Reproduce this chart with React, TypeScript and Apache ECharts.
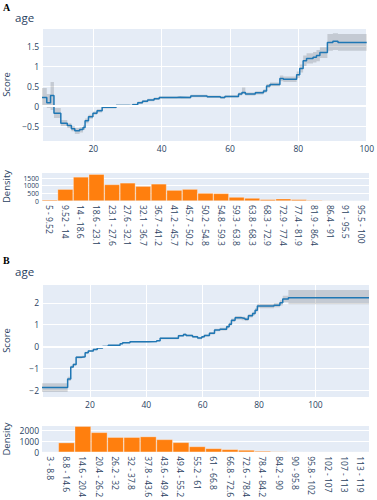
import React, { useEffect, useRef } from 'react';
import * as echarts from 'echarts';

// ---------- Panel A: age shape function ----------
const ageA_x = [5, 6.4, 7.5, 8.5, 10.5, 12.4, 13.6, 14.6, 16, 17, 17.6, 18.6, 19.9, 21.1, 22.6, 26.7, 30.6, 31.5, 33, 34.4, 35.9, 37.8, 39.3, 44.6, 45.6, 48.5, 53.3, 57.2, 58.5, 62.5, 63.5, 64.5, 67.4, 69.8, 70.7, 71.7, 74.6, 75.6, 79.5, 80.4, 81.4, 82.4, 84.3, 85.3, 86.3, 88.5, 90.1, 91.6, 100];
const ageA_score = [0.21, 0.08, 0.26, -0.18, -0.43, -0.49, -0.57, -0.62, -0.59, -0.54, -0.37, -0.27, -0.18, -0.12, -0.03, 0.01, 0.0, 0.03, 0.08, 0.12, 0.15, 0.18, 0.21, 0.22, 0.21, 0.25, 0.23, 0.21, 0.24, 0.3, 0.34, 0.3, 0.33, 0.375, 0.5, 0.54, 0.69, 0.67, 0.78, 0.94, 1.13, 1.19, 1.22, 1.26, 1.34, 1.59, 1.62, 1.59, 1.59];
const ageA_lower = [0.0, -0.05, -0.1, -0.3, -0.5, -0.55, -0.63, -0.7, -0.66, -0.6, -0.43, -0.32, -0.22, -0.16, -0.06, -0.02, -0.03, 0.0, 0.05, 0.09, 0.12, 0.15, 0.18, 0.19, 0.18, 0.22, 0.2, 0.18, 0.21, 0.26, 0.3, 0.26, 0.29, 0.33, 0.45, 0.49, 0.62, 0.6, 0.7, 0.84, 1.0, 1.06, 1.09, 1.12, 1.2, 1.38, 1.4, 1.38, 1.38];
const ageA_upper = [0.45, 0.3, 0.6, -0.05, -0.35, -0.43, -0.5, -0.55, -0.53, -0.48, -0.31, -0.22, -0.14, -0.08, 0.0, 0.04, 0.03, 0.06, 0.11, 0.15, 0.18, 0.21, 0.24, 0.25, 0.24, 0.28, 0.26, 0.24, 0.27, 0.34, 0.46, 0.34, 0.37, 0.42, 0.55, 0.59, 0.76, 0.74, 0.86, 1.04, 1.26, 1.32, 1.35, 1.4, 1.47, 1.8, 1.82, 1.8, 1.8];

const histA_bins = ['5 - 9.52', '9.52 - 14', '14 - 18.6', '18.6 - 23.1', '23.1 - 27.6', '27.6 - 32.1', '32.1 - 36.7', '36.7 - 41.2', '41.2 - 45.7', '45.7 - 50.2', '50.2 - 54.8', '54.8 - 59.3', '59.3 - 63.8', '63.8 - 68.3', '68.3 - 72.9', '72.9 - 77.4', '77.4 - 81.9', '81.9 - 86.4', '86.4 - 91', '91 - 95.5', '95.5 - 100'];
const histA_counts = [85, 780, 1580, 1755, 1085, 1190, 975, 1125, 715, 780, 520, 500, 260, 195, 110, 150, 110, 65, 45, 8, 3];

// ---------- Panel B: age shape function ----------
const ageB_x = [3, 12.1, 13.2, 14.1, 15.1, 17.1, 18.3, 19.4, 21.2, 22.6, 24.5, 26.5, 30.7, 31.6, 34.2, 41, 43.7, 44.9, 51.4, 53.2, 54.1, 56.4, 58.2, 59.7, 60.6, 62.4, 64.2, 66.1, 68.5, 69.4, 70.2, 71.5, 73.8, 75, 76.2, 77.7, 78.6, 79.4, 85.3, 87.4, 88.4, 90.4, 119];
const ageB_score = [-1.89, -1.49, -0.94, -0.83, -0.5, -0.48, -0.29, -0.21, -0.14, -0.07, 0.0, 0.05, 0.12, 0.17, 0.21, 0.22, 0.26, 0.37, 0.49, 0.55, 0.5, 0.44, 0.38, 0.44, 0.5, 0.6, 0.75, 0.79, 0.9, 1.02, 1.2, 1.31, 1.28, 1.24, 1.4, 1.51, 1.66, 1.85, 1.89, 2.0, 2.17, 2.23, 2.23];
const ageB_errLow = [0.2, 0.1, 0.06, 0.06, 0.06, 0.05, 0.04, 0.04, 0.04, 0.04, 0.03, 0.03, 0.03, 0.03, 0.03, 0.03, 0.03, 0.04, 0.04, 0.05, 0.05, 0.05, 0.05, 0.05, 0.05, 0.06, 0.06, 0.06, 0.07, 0.07, 0.08, 0.08, 0.08, 0.08, 0.08, 0.08, 0.1, 0.1, 0.1, 0.12, 0.15, 0.3, 0.3];
const ageB_errHigh = [0.2, 0.1, 0.06, 0.06, 0.06, 0.05, 0.04, 0.04, 0.04, 0.04, 0.03, 0.03, 0.03, 0.03, 0.03, 0.03, 0.03, 0.04, 0.04, 0.05, 0.05, 0.05, 0.05, 0.05, 0.05, 0.06, 0.06, 0.06, 0.07, 0.07, 0.08, 0.08, 0.08, 0.08, 0.08, 0.08, 0.1, 0.1, 0.1, 0.12, 0.15, 0.35, 0.35];

const histB_bins = ['3 - 8.8', '8.8 - 14.6', '14.6 - 20.4', '20.4 - 26.2', '26.2 - 32', '32 - 37.8', '37.8 - 43.6', '43.6 - 49.4', '49.4 - 55.2', '55.2 - 61', '61 - 66.8', '66.8 - 72.6', '72.6 - 78.4', '78.4 - 84.2', '84.2 - 90', '90 - 95.8', '95.8 - 102', '102 - 107', '107 - 113', '113 - 119'];
const histB_counts = [5, 885, 2390, 1825, 1380, 1380, 1440, 1180, 910, 530, 350, 265, 205, 115, 70, 10, 2, 1, 0, 0];

const FONT = '"Open Sans", "Noto Sans", sans-serif';
const TXT = '#2a3f5f';
const BG = '#e5ecf6';
const LINE = '#1f77b4';
const BAR = '#ff7f0e';
const BAND = 'rgba(0,0,0,0.14)';

const minusFmt = (v: number) => String(v).replace('-', '\u2212');

function bandSeries(xs: number[], lo: number[], hi: number[], xIdx: number, yIdx: number) {
  const rows = xs.slice(0, -1).map((x, i) => [x, xs[i + 1], lo[i], hi[i]]);
  return {
    type: 'custom',
    xAxisIndex: xIdx,
    yAxisIndex: yIdx,
    z: 1,
    silent: true,
    data: rows,
    encode: { x: [0, 1], y: [2, 3] },
    renderItem: (params: any, api: any) => {
      if (params.dataIndex !== 0) return null;
      const pts: number[][] = [];
      for (let i = 0; i < rows.length; i++) {
        pts.push(api.coord([rows[i][0], rows[i][3]]));
        pts.push(api.coord([rows[i][1], rows[i][3]]));
      }
      for (let i = rows.length - 1; i >= 0; i--) {
        pts.push(api.coord([rows[i][1], rows[i][2]]));
        pts.push(api.coord([rows[i][0], rows[i][2]]));
      }
      return { type: 'polygon', shape: { points: pts }, style: { fill: BAND } };
    },
    markLine: {
      silent: true,
      symbol: 'none',
      label: { show: false },
      lineStyle: { color: '#ffffff', width: 2, type: 'solid' },
      data: [{ yAxis: 0 }],
    },
  };
}

const valueX = (grid: number, min: number, max: number, showMax: boolean) => ({
  type: 'value',
  gridIndex: grid,
  min,
  max,
  splitNumber: 5,
  axisLine: { show: false },
  axisTick: { show: false },
  splitLine: { show: true, lineStyle: { color: '#ffffff', width: 1 } },
  axisLabel: { showMinLabel: false, showMaxLabel: showMax, color: TXT, fontSize: 8.5, fontFamily: FONT, margin: 3, formatter: minusFmt },
});

const valueY = (grid: number, min: number, max: number, split: number, showMin: boolean, size: number) => ({
  type: 'value',
  gridIndex: grid,
  min,
  max,
  splitNumber: split,
  axisLine: { show: false },
  axisTick: { show: false },
  splitLine: { show: true, lineStyle: { color: '#ffffff', width: 1 } },
  axisLabel: { showMinLabel: showMin, showMaxLabel: false, color: TXT, fontSize: size, lineHeight: size, fontFamily: FONT, margin: 3, formatter: minusFmt, hideOverlap: false },
});

const catX = (grid: number, data: string[]) => ({
  type: 'category',
  gridIndex: grid,
  data,
  boundaryGap: true,
  axisLine: { show: false },
  axisTick: { show: false },
  splitLine: { show: false },
  axisLabel: { interval: 0, rotate: -90, color: TXT, fontSize: 8.5, fontFamily: FONT, margin: 4 },
});

export default function App() {
  const ref = useRef<HTMLDivElement>(null);
  useEffect(() => {
    document.body.style.margin = '0';
    if (!ref.current) return;
    const chart = echarts.init(ref.current, undefined, { renderer: 'svg' });
    const gridBase = { left: 42, width: 327, show: true, backgroundColor: BG, borderWidth: 0, containLabel: false };
    const txt = (text: string, x: number, y: number, size: number, extra: any = {}) => ({
      type: 'text',
      x,
      y,
      ...extra,
      style: { text, fontSize: size, fontFamily: FONT, fill: TXT, align: 'left', verticalAlign: 'middle', ...(extra.style || {}) },
    });
    chart.setOption({
      animation: false,
      backgroundColor: '#ffffff',
      grid: [
        { ...gridBase, top: 28, height: 113 },
        { ...gridBase, top: 172, height: 29 },
        { ...gridBase, top: 284, height: 113 },
        { ...gridBase, top: 425, height: 28 },
      ],
      xAxis: [
        valueX(0, 5, 100, true),
        catX(1, histA_bins),
        valueX(2, 3, 119, false),
        catX(3, histB_bins),
      ],
      yAxis: [
        valueY(0, -0.875, 1.95, 5, false, 8.5),
        valueY(1, 0, 1900, 3, true, 6.8),
        valueY(2, -2.32, 2.86, 5, false, 8.5),
        valueY(3, 0, 2500, 3, true, 8.5),
      ],
      series: [
        bandSeries(ageA_x, ageA_lower, ageA_upper, 0, 0),
        {
          type: 'line', xAxisIndex: 0, yAxisIndex: 0, z: 3, step: 'end', symbol: 'none', silent: true,
          lineStyle: { color: LINE, width: 1.5 },
          data: ageA_x.map((x, i) => [x, ageA_score[i]]),
        },
        {
          type: 'bar', xAxisIndex: 1, yAxisIndex: 1, barCategoryGap: '0%', silent: true,
          itemStyle: { color: BAR, borderColor: 'rgba(255,255,255,0.5)', borderWidth: 0.6 },
          data: histA_counts,
        },
        bandSeries(ageB_x, ageB_score.map((v, i) => v - ageB_errLow[i]), ageB_score.map((v, i) => v + ageB_errHigh[i]), 2, 2),
        {
          type: 'line', xAxisIndex: 2, yAxisIndex: 2, z: 3, step: 'end', symbol: 'none', silent: true,
          lineStyle: { color: LINE, width: 1.5 },
          data: ageB_x.map((x, i) => [x, ageB_score[i]]),
        },
        {
          type: 'bar', xAxisIndex: 3, yAxisIndex: 3, barCategoryGap: '0%', silent: true,
          itemStyle: { color: BAR, borderColor: 'rgba(255,255,255,0.5)', borderWidth: 0.6 },
          data: histB_counts,
        },
      ],
      graphic: [
        { type: 'text', x: 3, y: 7, style: { text: 'A', fontSize: 10, fontWeight: 'bold', fontFamily: '"Liberation Serif", "DejaVu Serif", serif', fill: '#000', verticalAlign: 'middle' } },
        { type: 'text', x: 3, y: 260, style: { text: 'B', fontSize: 10, fontWeight: 'bold', fontFamily: '"Liberation Serif", "DejaVu Serif", serif', fill: '#000', verticalAlign: 'middle' } },
        txt('age', 15, 17, 11.5),
        txt('age', 15, 271, 11.5),
        txt('Score', 6, 84.5, 9.5, { rotation: Math.PI / 2, style: { align: 'center' } }),
        txt('Density', 6, 186.5, 9.5, { rotation: Math.PI / 2, style: { align: 'center' } }),
        txt('Score', 6, 340.5, 9.5, { rotation: Math.PI / 2, style: { align: 'center' } }),
        txt('Density', 6, 439, 9.5, { rotation: Math.PI / 2, style: { align: 'center' } }),
      ],
    });
    return () => chart.dispose();
  }, []);
  return <div ref={ref} style={{ width: 377, height: 500 }} />;
}
